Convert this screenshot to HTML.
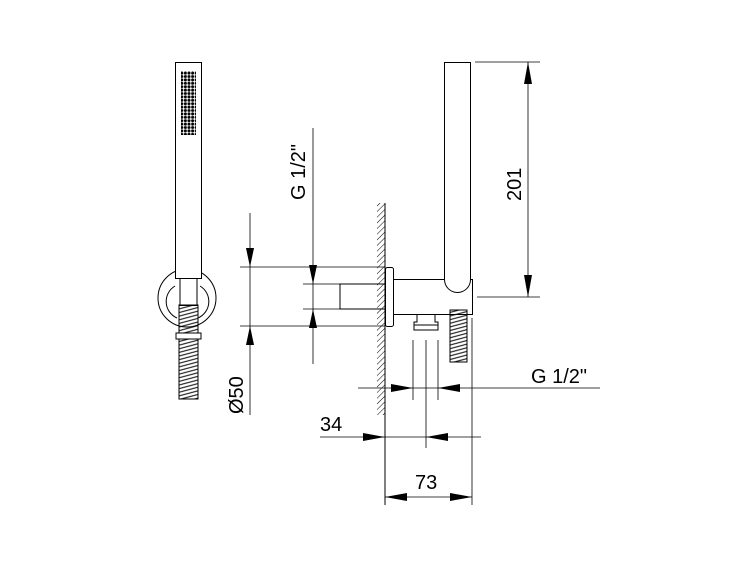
<!DOCTYPE html>
<html><head><style>html,body{margin:0;padding:0;background:#fff}svg{display:block}</style></head><body>
<svg width="750" height="563" viewBox="0 0 750 563" xmlns="http://www.w3.org/2000/svg">
<defs>
<pattern id="hatch" width="4" height="4" patternUnits="userSpaceOnUse" patternTransform="rotate(45)"><line x1="0" y1="0" x2="0" y2="4" stroke="#000" stroke-width="1"/></pattern>
<pattern id="hose" width="30" height="3.5" patternUnits="userSpaceOnUse" patternTransform="rotate(-15)"><line x1="0" y1="1.75" x2="30" y2="1.75" stroke="#000" stroke-width="1.1"/></pattern>
<pattern id="dots" width="3.6" height="3.4" patternUnits="userSpaceOnUse"><circle cx="1.8" cy="1.7" r="1.5" fill="#000"/></pattern>
</defs>
<g fill="none" stroke="#000" stroke-width="1">
<circle cx="187" cy="298" r="29"/>
<path d="M175 286 A18 18 0 0 0 177 318 M200 286 A18 18 0 0 1 198 318"/>
<rect x="175.5" y="62.5" width="26" height="216" fill="#fff"/>
<rect x="180" y="278.5" width="17" height="27"/>
<rect x="179" y="305" width="19" height="94" fill="url(#hose)"/>
<rect x="176" y="333" width="25" height="6" fill="#fff"/>
<rect x="181" y="71" width="15" height="64" fill="url(#dots)" stroke="none"/>
<rect x="377" y="203" width="8" height="212" fill="url(#hatch)" stroke="none"/>
<line x1="385" y1="203" x2="385" y2="505"/>
<path d="M385 284 H340 V309 H385"/>
<rect x="385.5" y="267.5" width="8" height="59" fill="#fff" rx="2"/>
<path d="M393.5 279.5 H472.5 V314.5 H393.5"/>
<path d="M444.5 62.5 H470.5 V279.5 A13 13 0 0 1 444.5 279.5 Z" fill="#fff"/>
<path d="M417 314 V322 H414 V330 H438 V322 H435 V314"/>
<line x1="414" y1="325" x2="438" y2="325"/>
<rect x="450" y="310" width="17" height="52" fill="url(#hose)"/>
<g stroke-width="0.8">
<line x1="240" y1="267" x2="385" y2="267"/>
<line x1="240" y1="326" x2="385" y2="326"/>
<line x1="303" y1="284" x2="340" y2="284"/>
<line x1="303" y1="309" x2="340" y2="309"/>
<line x1="250" y1="213" x2="250" y2="415"/>
<line x1="313" y1="128" x2="313" y2="364"/>
<line x1="358" y1="388" x2="600" y2="388"/>
<line x1="413" y1="340" x2="413" y2="400"/>
<line x1="438" y1="340" x2="438" y2="400"/>
<line x1="426" y1="340" x2="426" y2="448"/>
<line x1="320" y1="437" x2="481" y2="437"/>
<line x1="472" y1="318" x2="472" y2="505"/>
<line x1="385" y1="497" x2="472" y2="497"/>
<line x1="475" y1="62" x2="540" y2="62"/>
<line x1="477" y1="297" x2="540" y2="297"/>
<line x1="528" y1="62" x2="528" y2="297"/>
</g>
</g>
<g fill="#000">
<polygon points="250,267 246,248 254,248"/><polygon points="250,326 246,345 254,345"/>
<polygon points="313,284 309,265 317,265"/><polygon points="313,309 309,328 317,328"/>
<polygon points="413,388 391,384 391,392"/><polygon points="438,388 460,384 460,392"/>
<polygon points="385,437 363,433 363,441"/><polygon points="426,437 448,433 448,441"/>
<polygon points="385,497 407,493 407,501"/><polygon points="472,497 450,493 450,501"/>
<polygon points="528,62 524,84 532,84"/><polygon points="528,297 524,275 532,275"/>
</g>
<g font-family="Liberation Sans, sans-serif" font-size="20" fill="#000">
<text transform="translate(305,200) rotate(-90)">G 1/2"</text>
<text transform="translate(243,414) rotate(-90)">Ø50</text>
<text transform="translate(521,201) rotate(-90)">201</text>
<text x="531" y="383">G 1/2"</text>
<text x="320" y="431">34</text>
<text x="415" y="489">73</text>
</g>
</svg>
</body></html>
